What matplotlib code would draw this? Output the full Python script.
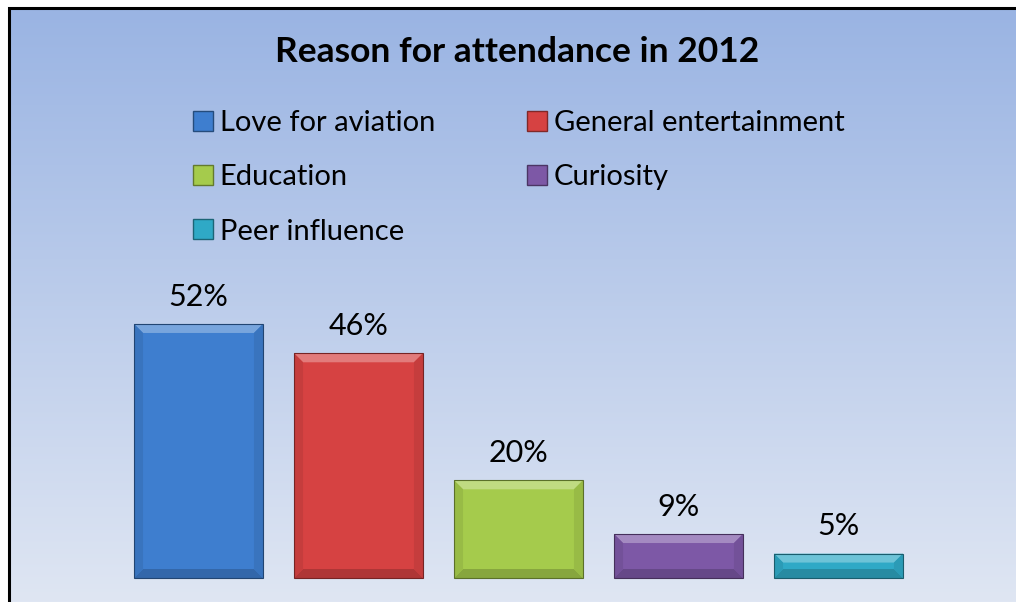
import matplotlib
matplotlib.use("Agg")
import matplotlib.pyplot as plt
import numpy as np
from matplotlib.patches import Polygon, Rectangle
import matplotlib.colors as mcolors

categories = ["Love for aviation", "General entertainment", "Education", "Curiosity", "Peer influence"]
values = [52, 46, 20, 9, 5]
labels = ["52%", "46%", "20%", "9%", "5%"]
colors = ["#3E7ECF", "#D64242", "#A5CB4C", "#7D58A6", "#2FA9C6"]
title = "Reason for attendance in 2012"

W, H, DPI = 1016, 602, 100
plt.rcParams['font.family'] = ['Lato', 'DejaVu Sans']
fig = plt.figure(figsize=(W / DPI, H / DPI), dpi=DPI)
fig.patch.set_facecolor("white")

# gradient background
x0, ytop = 10 / W, 1 - 10 / H
bg = fig.add_axes([x0, 0, 1 - x0, ytop])
top = np.array(mcolors.to_rgb("#9AB4E3"))
bot = np.array(mcolors.to_rgb("#DFE6F3"))
t = np.linspace(0, 1, 256)[:, None]
grad = top[None, :] * (1 - t) + bot[None, :] * t
bg.imshow(grad[:, None, :], aspect="auto", extent=[0, 1, 0, 1])
bg.set_axis_off()
# border
fig.patches.append(Rectangle((8.5 / W, -0.1), 1.2, ytop + 0.1 + 1.5 / H, transform=fig.transFigure,
                             fill=False, edgecolor="black", linewidth=2.2, zorder=5))

ax = fig.add_axes([118.5 / W, (H - 578) / H, 800 / W, 60 * 4.885 / H])
ax.set_facecolor("none")
x = np.arange(len(values))
bars = ax.bar(x, values, width=0.806, color=colors, edgecolor="none", zorder=2)
ax.set_xlim(-0.5, len(values) - 0.5)
ax.set_ylim(0, 60)
ax.set_axis_off()

for b, lab in zip(bars, labels):
    ax.annotate(lab, (b.get_x() + b.get_width() / 2, b.get_height()), xytext=(0, 19.5),
                textcoords="offset points", ha="center", va="center", fontsize=22, color="black")

fig.canvas.draw()
bev = 9
for b, c in zip(bars, colors):
    (xa, ya), (xb, yb) = ax.transData.transform([(b.get_x(), 0), (b.get_x() + b.get_width(), b.get_height())])
    base = np.array(mcolors.to_rgb(c))
    light = np.clip(base + (1 - base) * 0.3, 0, 1)
    dark = base * 0.82
    side = base * 0.92
    d = min(bev, (yb - ya) / 2)
    polys = [
        ([(xa, yb), (xb, yb), (xb - d, yb - d), (xa + d, yb - d)], light),
        ([(xa, ya), (xb, ya), (xb - d, ya + d), (xa + d, ya + d)], dark),
        ([(xa, ya), (xa, yb), (xa + d, yb - d), (xa + d, ya + d)], side),
        ([(xb, ya), (xb, yb), (xb - d, yb - d), (xb - d, ya + d)], side),
    ]
    for pts, col in polys:
        fig.patches.append(Polygon(pts, closed=True, transform=None, facecolor=col, edgecolor="none", zorder=3))
    fig.patches.append(Rectangle((xa, ya), xb - xa, yb - ya, transform=None, fill=False,
                                 edgecolor=base * 0.55, linewidth=0.8, zorder=4))

fig.text(517 / W, 1 - 52 / H, title, ha="center", va="center", fontsize=25.5, fontweight="bold")

handles = [Rectangle((0, 0), 1, 1, facecolor=c, edgecolor=np.array(mcolors.to_rgb(c)) * 0.6) for c in colors]
order = [0, 2, 4, 1, 3]
leg = fig.legend([handles[i] for i in order], [categories[i] for i in order], ncol=2, loc="upper left",
                 bbox_to_anchor=(193 / W, 1 - 110 / H), borderpad=0, borderaxespad=0,
                 frameon=False, fontsize=21, handlelength=0.68, handleheight=0.68, handletextpad=0.24,
                 columnspacing=3.15, labelspacing=0.97)

fig.savefig("out.png", dpi=DPI)
